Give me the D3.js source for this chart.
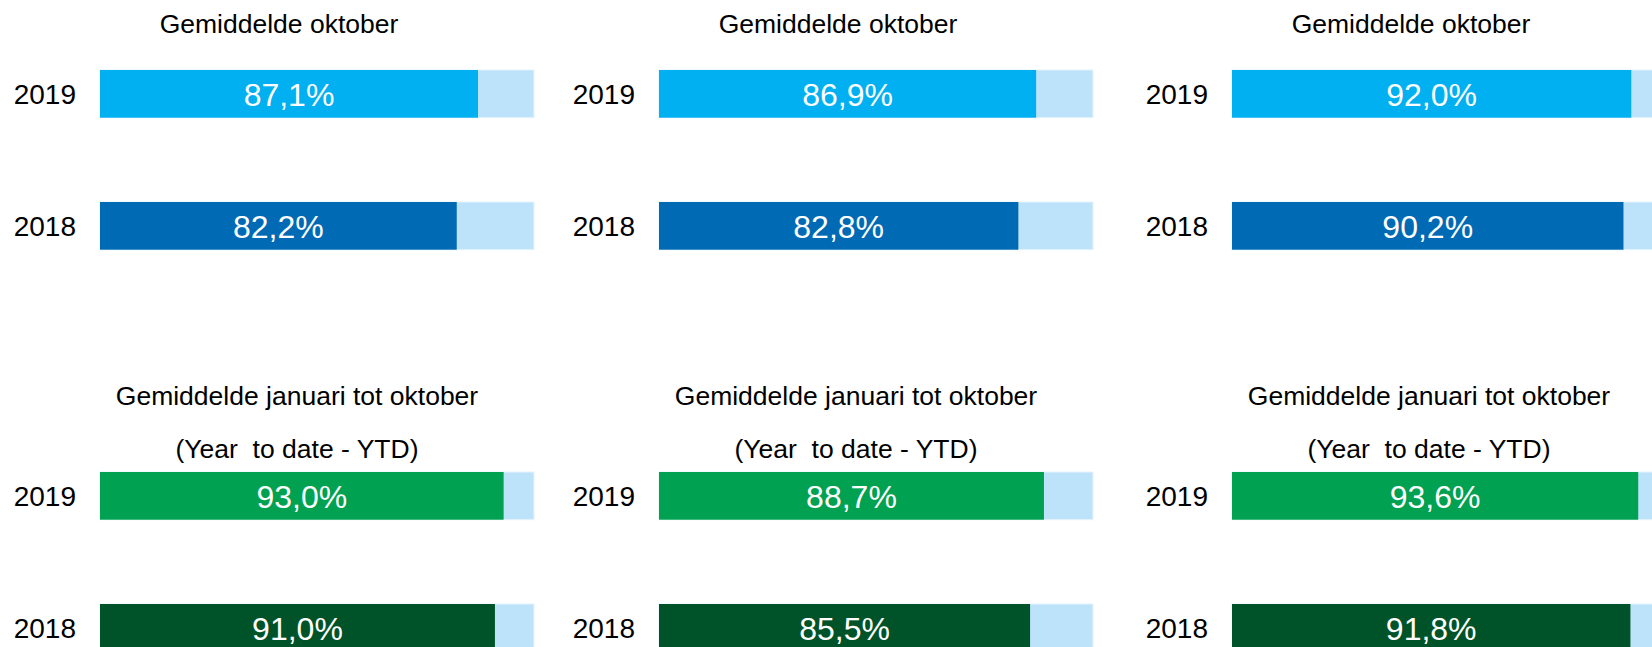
<!DOCTYPE html>
<html>
<head>
<meta charset="utf-8">
<script src="https://cdn.jsdelivr.net/npm/d3@7"></script>
<style>
  body { margin: 0; background: #fff; }
  svg { display: block; font-family: Arial, "Liberation Sans", sans-serif; }
  svg text { white-space: pre; }
</style>
</head>
<body>
<div id="chart"></div>
<script>
// data
var years = ["2019", "2018"];
var monthTitle = ["Gemiddelde oktober"];
var ytdTitle = ["Gemiddelde januari tot oktober", "(Year  to date - YTD)"];
var monthValues = [[87.1, 82.2], [86.9, 82.8], [92.0, 90.2]];
var ytdValues = [[93.0, 91.0], [88.7, 85.5], [93.6, 91.8]];

var W = 1652, H = 647;
var panelX = [100, 659, 1232];   // left edge of the bars in each column
var barW = 434;

var nl = d3.formatLocale({decimal: ",", thousands: ".", grouping: [3], currency: ["€", ""]});
var fmt = function(v) { return nl.format(".1f")(v) + "%"; };

var svg = d3.select("#chart").append("svg")
    .attr("width", W)
    .attr("height", H);

function drawPanel(x0, top, values, colors, titles, titleY) {
    var xScale = d3.scaleLinear().domain([0, 100]).range([x0, x0 + barW]);
    // two bars, 47.7px high, 132px apart
    var yScale = d3.scaleBand().domain(years).range([top, top + 132 + 47.7]).paddingInner((132 - 47.7) / 132);

    var g = svg.append("g");

    // titles
    g.selectAll("text.title")
      .data(titles)
      .enter().append("text")
        .attr("class", "title")
        .attr("x", x0 + titleY.dx)
        .attr("y", function(d, i) { return titleY.y[i]; })
        .attr("text-anchor", "middle")
        .style("font-size", "26.5px")
        .attr("fill", "#000")
        .text(function(d) { return d; });

    var rows = g.selectAll("g.row")
      .data(years)
      .enter().append("g")
        .attr("class", "row");

    // remainder (light) bar
    rows.append("rect")
        .attr("x", xScale(0))
        .attr("y", function(d) { return yScale(d); })
        .attr("width", xScale(100) - xScale(0))
        .attr("height", yScale.bandwidth())
        .attr("fill", "#bde3fb")
        .attr("stroke", "#e6f4fd")
        .attr("stroke-width", 1);

    // value bar
    rows.append("rect")
        .attr("x", xScale(0))
        .attr("y", function(d) { return yScale(d); })
        .attr("width", function(d, i) { return xScale(values[i]) - xScale(0); })
        .attr("height", yScale.bandwidth())
        .attr("fill", function(d, i) { return colors[i]; });

    // value labels
    rows.append("text")
        .attr("x", function(d, i) { return (xScale(0) + xScale(values[i])) / 2; })
        .attr("y", function(d) { return yScale(d) + yScale.bandwidth() / 2 + 12; })
        .attr("text-anchor", "middle")
        .style("font-size", "32px")
        .attr("fill", "#fff")
        .text(function(d, i) { return fmt(values[i]); });

    // year labels
    rows.append("text")
        .attr("x", xScale(0) - 24)
        .attr("y", function(d) { return yScale(d) + yScale.bandwidth() / 2 + 10; })
        .attr("text-anchor", "end")
        .style("font-size", "28px")
        .attr("fill", "#000")
        .text(function(d) { return d; });
}

panelX.forEach(function(x0, i) {
    drawPanel(x0, 70, monthValues[i], ["#00b0f0", "#006ab4"], monthTitle, {dx: 179, y: [32.5]});
    drawPanel(x0, 472, ytdValues[i], ["#00a151", "#005328"], ytdTitle, {dx: 197, y: [405, 458.3]});
});
</script>
</body>
</html>
